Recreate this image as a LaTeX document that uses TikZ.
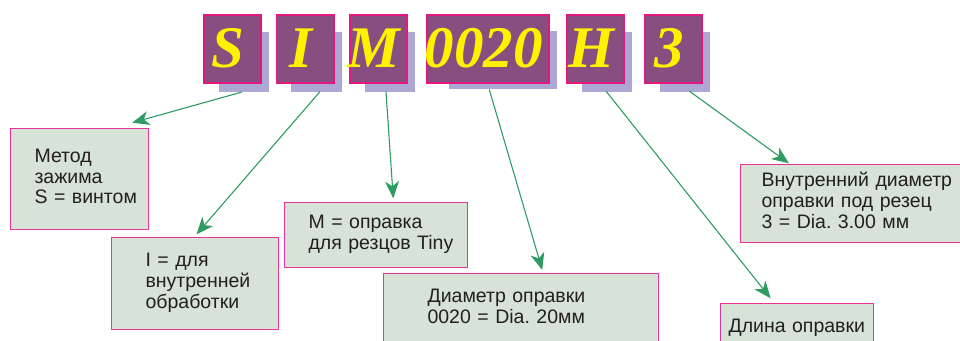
\documentclass[tikz,border=0pt]{standalone}
\usepackage{fontspec}
\setmainfont{Liberation Sans}
\newfontfamily\codefont{Liberation Serif}
\usetikzlibrary{arrows.meta,backgrounds}
\definecolor{codefill}{HTML}{874F80}
\definecolor{codeborder}{HTML}{E2187F}
\definecolor{codetext}{HTML}{FFF200}
\definecolor{shadowc}{HTML}{ADA8D3}
\definecolor{boxfill}{HTML}{D6E3D6}
\definecolor{boxborder}{HTML}{E8349A}
\definecolor{arrowc}{HTML}{2E9B62}
\definecolor{txt}{HTML}{231F20}
\newcommand\codechar[1]{\makebox[0pt]{#1\hspace{9pt}}}
\newcommand\infolines[2]{\hspace*{#1}\begin{tabular}[t]{@{}l@{}}#2\end{tabular}}
\begin{document}
\begin{tikzpicture}[x=1pt,y=-1pt,
 codebox/.style={draw=codeborder, fill=codefill, line width=1.2pt, minimum height=68pt, inner sep=0pt, text=codetext,
   font=\codefont\bfseries\itshape\fontsize{59}{59}\selectfont, text height=36pt, text depth=0pt},
 infobox/.style={draw=boxborder, fill=boxfill, line width=1.1pt, anchor=north west, inner xsep=0pt, inner ysep=0pt,
   align=left, text=txt, font=\fontsize{19.5}{20.7}\selectfont\frenchspacing},
 pointer/.style={draw=arrowc, line width=1.1pt, -{Stealth[length=17pt,width=14pt,inset=5pt]}},
 shadowrect/.style={fill=shadowc},
]
\useasboundingbox (0,0) rectangle (960,340);
\clip (0,0) rectangle (960,340);
% code letters
\node[codebox, minimum width=57pt] (S) at (232.5,49) {\codechar{S}};
\node[codebox, minimum width=57.7pt] (I) at (305.2,49) {\codechar{I}};
\node[codebox, minimum width=57pt] (M) at (378.5,49) {\codechar{M}};
\node[codebox, minimum width=122pt] (D) at (488,49) {\codechar{0020}};
\node[codebox, minimum width=57pt] (H) at (595.5,49) {\codechar{H}};
\node[codebox, minimum width=57pt] (T) at (673.5,49) {\codechar{3}};
\begin{scope}[on background layer]
\foreach \n in {S,I,M,H,T}
  \fill[shadowrect] ([xshift=15.5pt,yshift=-18pt]\n.north west) rectangle ([xshift=7pt,yshift=-8pt]\n.south east);
\fill[shadowrect] ([xshift=23pt,yshift=-17pt]D.north west) rectangle ([xshift=7pt,yshift=-5pt]D.south east);
\end{scope}
% info boxes
\node[infobox, text width=138pt, minimum height=101pt] (m1) at (10,128) {\infolines{24pt}{Метод\\зажима\\S = винтом}};
\node[infobox, text width=167pt, minimum height=92pt] (m2) at (111,237) {\infolines{34pt}{I = для\\внутренней\\обработки}};
\node[infobox, text width=183pt, minimum height=65pt] (m3) at (284,202) {\infolines{24pt}{M = оправка\\для резцов Tiny}};
\node[infobox, text width=275pt, minimum height=70pt] (m4) at (383,273) {\infolines{44pt}{Диаметр оправки\\0020 = Dia. 20мм}};
\node[infobox, text width=222pt, minimum height=78pt] (m5) at (740,164) {\infolines{21pt}{Внутренний диаметр\\оправки под резец\\3 = Dia. 3.00 мм}};
\node[infobox, text width=153pt, minimum height=49pt] (m6) at (720,303) {\infolines{8pt}{Длина оправки}};
% pointers
\draw[pointer] ([xshift=9.2pt,yshift=-8.5pt]S.south) -- ([xshift=52.7pt,yshift=5.3pt]m1.north);
\draw[pointer] ([xshift=14.8pt,yshift=-8pt]I.south) -- ([xshift=1.5pt,yshift=2.7pt]m2.north);
\draw[pointer] ([xshift=7.5pt,yshift=-8pt]M.south) -- ([xshift=17.2pt,yshift=3.7pt]m3.north);
\draw[pointer] ([xshift=1.3pt,yshift=-6pt]D.south) -- ([xshift=21.2pt,yshift=3pt]m4.north);
\draw[pointer] ([xshift=10.5pt,yshift=-7.5pt]H.south) -- ([xshift=-26.5pt,yshift=4.7pt]m6.north);
\draw[pointer] ([xshift=15.8pt,yshift=-7.5pt]T.south) -- ([xshift=-62.7pt,yshift=0.7pt]m5.north);
\end{tikzpicture}
\end{document}
